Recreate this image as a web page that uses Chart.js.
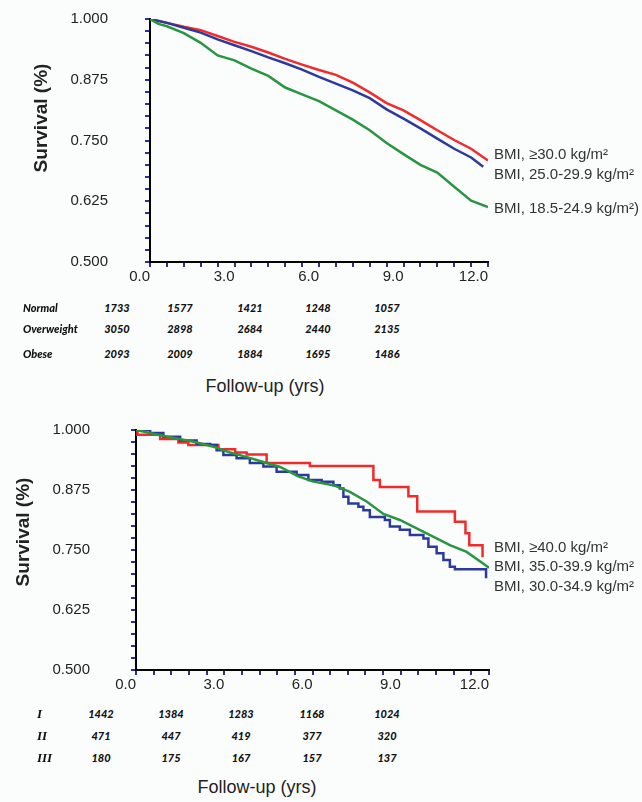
<!DOCTYPE html>
<html>
<head>
<meta charset="utf-8">
<script src="https://cdn.jsdelivr.net/npm/chart.js@4.4.1/dist/chart.umd.min.js"></script>
<style>
  html, body { margin: 0; padding: 0; }
  body { width: 642px; height: 802px; position: relative; overflow: hidden; background: #fbfdfd; font-family: "Liberation Sans", Arial, sans-serif; color: #222; }
  canvas { position: absolute; left: 0; }
  .t { position: absolute; white-space: nowrap; line-height: 1; }
  .c { transform: translate(-50%, -50%); }
  .l { transform: translate(0, -50%); }
  .ytitle { font-weight: bold; font-size: 19px; transform: translate(-50%, -50%) rotate(-90deg); }
  .xtitle { font-size: 18px; }
  .curve { font-size: 15px; color: #333; }
  .risk { font-family: Lato, "Liberation Sans", sans-serif; font-weight: 900; font-style: italic; font-size: 11px; color: #111; }
  .roman { font-family: "Liberation Serif", serif; font-weight: bold; font-style: italic; font-size: 13px; color: #111; }
</style>
</head>
<body>
<canvas id="c1" width="642" height="300" style="top:0"></canvas>
<canvas id="c2" width="642" height="300" style="top:400px"></canvas>
<div id="texts"></div>
<script>
// ---------- DATA ----------
const xTickLabels = ['0.0', '3.0', '6.0', '9.0', '12.0'];
const yTickLabels = ['0.500', '0.625', '0.750', '0.875', '1.000'];

// Top panel (BMI categories), [years, survival]
const topObese = [[0,1.000],[0.6,0.992],[1.2,0.984],[1.8,0.977],[2.4,0.965],[3.0,0.953],[3.6,0.943],[4.2,0.931],[4.8,0.918],[5.4,0.906],[6.0,0.895],[6.6,0.885],[7.2,0.869],[7.8,0.849],[8.4,0.827],[9.0,0.812],[9.6,0.792],[10.2,0.771],[10.8,0.751],[11.4,0.733],[12.0,0.709]];
const topOverweight = [[0,1.000],[0.6,0.992],[1.2,0.982],[1.8,0.972],[2.4,0.958],[3.0,0.946],[3.6,0.934],[4.2,0.921],[4.8,0.909],[5.4,0.896],[6.0,0.881],[6.6,0.867],[7.2,0.853],[7.8,0.837],[8.4,0.814],[9.0,0.795],[9.6,0.775],[10.2,0.754],[10.8,0.733],[11.4,0.715],[11.83,0.696]];
const topNormal = [[0,1.000],[0.3,0.990],[0.6,0.985],[1.2,0.971],[1.8,0.951],[2.4,0.925],[3.0,0.915],[3.6,0.898],[4.2,0.883],[4.8,0.859],[5.4,0.845],[6.0,0.831],[6.6,0.812],[7.2,0.793],[7.8,0.771],[8.4,0.745],[9.0,0.722],[9.6,0.700],[10.2,0.684],[10.8,0.655],[11.4,0.626],[12.0,0.613]];

// Bottom panel (obesity classes), [years, survival]
const botClass3 = [[0,1.000],[0.05,0.990],[0.82,0.981],[1.44,0.974],[1.78,0.969],[2.8,0.960],[3.37,0.953],[3.76,0.949],[4.44,0.931],[5.91,0.925],[8.07,0.896],[8.29,0.881],[9.26,0.862],[9.56,0.830],[10.84,0.809],[11.2,0.785],[11.33,0.760],[11.78,0.735]];
const botClass2 = [[0,1.000],[0.9,0.988],[2.0,0.975],[2.7,0.964],[3.2,0.953],[3.8,0.943],[4.3,0.934],[4.9,0.923],[5.5,0.904],[6.0,0.893],[6.71,0.885],[7.27,0.871],[7.84,0.851],[8.41,0.825],[8.97,0.8125],[9.54,0.795],[10.1,0.778],[10.67,0.760],[11.24,0.746],[11.8,0.722],[12.0,0.713]];
const botClass1 = [[0,1.000],[0.48,0.994],[0.93,0.986],[1.5,0.978],[2.06,0.971],[2.52,0.969],[2.74,0.958],[2.97,0.948],[3.42,0.941],[3.87,0.931],[4.33,0.924],[4.78,0.913],[5.46,0.906],[5.86,0.896],[6.31,0.892],[6.71,0.885],[6.93,0.878],[7.05,0.861],[7.22,0.847],[7.56,0.840],[7.73,0.833],[7.95,0.819],[8.46,0.8125],[8.63,0.799],[8.97,0.792],[9.31,0.781],[9.77,0.774],[9.94,0.757],[10.22,0.743],[10.45,0.729],[10.67,0.715],[10.84,0.710],[11.9,0.691]];

// Numbers at risk
const topRiskGroups = ['Normal', 'Overweight', 'Obese'];
const normalAtRisk = [1733, 1577, 1421, 1248, 1057];
const overweightAtRisk = [3050, 2898, 2684, 2440, 2135];
const obeseAtRisk = [2093, 2009, 1884, 1695, 1486];
const botRiskGroups = ['I', 'II', 'III'];
const class1AtRisk = [1442, 1384, 1283, 1168, 1024];
const class2AtRisk = [471, 447, 419, 377, 320];
const class3AtRisk = [180, 175, 167, 157, 137];

const topCurveLabels = ['BMI, \u226530.0 kg/m\u00B2', 'BMI, 25.0-29.9 kg/m\u00B2', 'BMI, 18.5-24.9 kg/m\u00B2)'];
const botCurveLabels = ['BMI, \u226540.0 kg/m\u00B2', 'BMI, 35.0-39.9 kg/m\u00B2', 'BMI, 30.0-34.9 kg/m\u00B2'];
const yTitle = 'Survival (%)';
const xTitle = 'Follow-up (yrs)';

// ---------- STYLE ----------
const RED = '#f22a2a', BLUE = '#2b3a9c', GREEN = '#2a9540', TICK = '#2e3192';

function toPts(arr) { return arr.map(p => ({ x: p[0], y: p[1] })); }

function makeChart(id, datasets, g) {
  const xVals = [], yVals = [];
  for (let k = 0; k <= 20; k++) { xVals.push(k * 0.6); yVals.push(0.5 + k * 0.025); }
  return new Chart(document.getElementById(id), {
    type: 'line',
    data: { datasets },
    options: {
      responsive: false, animation: false, devicePixelRatio: 1,
      layout: { padding: { left: 0, top: g.top, right: 642 - g.right, bottom: 0 } },
      plugins: { legend: { display: false }, tooltip: { enabled: false } },
      elements: { point: { radius: 0 }, line: { borderWidth: 2.5, tension: 0 } },
      scales: {
        x: {
          type: 'linear', min: 0, max: 12,
          afterBuildTicks: s => { s.ticks = xVals.map(v => ({ value: v })); },
          afterFit: s => { s.height = 300 - g.bottom; s.paddingLeft = 0; s.paddingRight = 0; },
          ticks: {
            autoSkip: false, maxRotation: 0, minRotation: 0, align: 'end', padding: 1,
            color: '#222', font: { family: 'Liberation Sans', size: 15 },
            callback: (v, i) => (i % 5 === 0 ? xTickLabels[i / 5] : '')
          },
          grid: { drawOnChartArea: false, drawTicks: true, tickLength: 5, color: TICK, lineWidth: 2 },
          border: { display: true, color: '#000', width: 2 }
        },
        y: {
          type: 'linear', min: 0.5, max: 1.0,
          afterBuildTicks: s => { s.ticks = yVals.map(v => ({ value: v })); },
          afterFit: s => { s.width = g.left; s.paddingTop = 0; s.paddingBottom = 0; },
          ticks: {
            autoSkip: false, padding: g.ypad,
            color: '#222', font: { family: 'Liberation Sans', size: 15 },
            callback: (v, i) => (i % 5 === 0 ? yTickLabels[i / 5] : '')
          },
          grid: { drawOnChartArea: false, drawTicks: true, tickLength: 5, color: TICK, lineWidth: 2 },
          border: { display: true, color: '#000', width: 2 }
        }
      }
    }
  });
}

makeChart('c1', [
  { data: toPts(topNormal), borderColor: GREEN },
  { data: toPts(topOverweight), borderColor: BLUE },
  { data: toPts(topObese), borderColor: RED }
], { left: 150, right: 488, top: 19, bottom: 262, ypad: 37 });

makeChart('c2', [
  { data: toPts(botClass2), borderColor: GREEN },
  { data: toPts(botClass1), borderColor: BLUE, stepped: 'before' },
  { data: toPts(botClass3), borderColor: RED, stepped: 'before' }
], { left: 136, right: 489, top: 30, bottom: 270, ypad: 41 });

// ---------- TEXT ----------
const box = document.getElementById('texts');
function addText(txt, x, y, cls) {
  const d = document.createElement('div');
  d.className = 't ' + cls;
  d.textContent = txt;
  d.style.left = x + 'px';
  d.style.top = y + 'px';
  box.appendChild(d);
}
addText(yTitle, 40, 118, 'ytitle');
addText(yTitle, 22, 532, 'ytitle');
addText(xTitle, 265, 386, 'c xtitle');
addText(xTitle, 257, 787, 'c xtitle');

[153, 173, 207].forEach((y, i) => addText(topCurveLabels[i], 494, y, 'l curve'));
[546, 565, 585].forEach((y, i) => addText(botCurveLabels[i], 494, y, 'l curve'));

const topCols = [117, 180, 250, 318, 387];
const topRows = [307, 328, 353];
[normalAtRisk, overweightAtRisk, obeseAtRisk].forEach((row, r) => {
  addText(topRiskGroups[r], 23, topRows[r], 'l risk');
  row.forEach((n, c) => addText(String(n), topCols[c], topRows[r], 'c risk'));
});
const botCols = [101, 171, 241, 312, 387];
const botRows = [713, 735, 757];
[class1AtRisk, class2AtRisk, class3AtRisk].forEach((row, r) => {
  addText(botRiskGroups[r], 37, botRows[r], 'l roman');
  row.forEach((n, c) => addText(String(n), botCols[c], botRows[r], 'c risk'));
});
</script>
</body>
</html>
